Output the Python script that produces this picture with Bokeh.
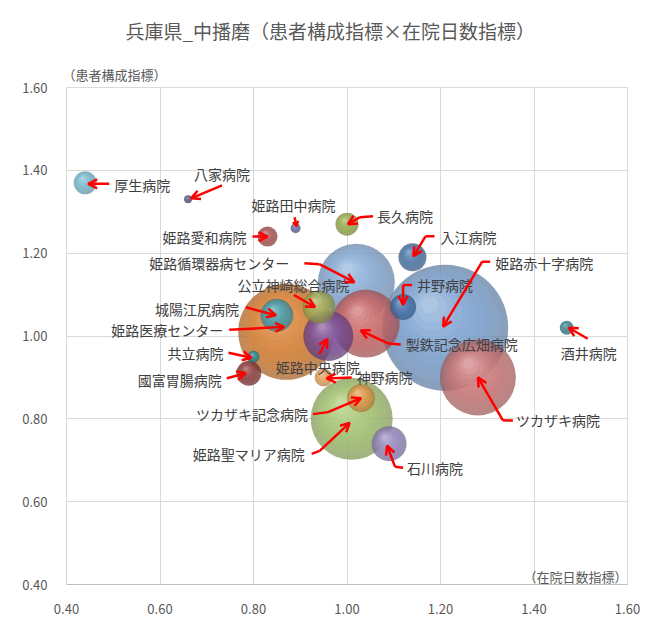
import math
from bokeh.plotting import figure
from bokeh.models import ColumnDataSource, FixedTicker, NumeralTickFormatter, Arrow, OpenHead, Label, Title
from bokeh.core.properties import value
from bokeh.embed import file_html
from bokeh.resources import INLINE

# ---------------- data ----------------
hospitals = ["厚生病院", "八家病院", "姫路田中病院", "姫路愛和病院", "長久病院", "入江病院",
             "姫路赤十字病院", "姫路循環器病センター", "井野病院", "酒井病院", "製鉄記念広畑病院",
             "公立神崎総合病院", "城陽江尻病院", "姫路医療センター", "姫路中央病院", "共立病院",
             "國富胃腸病院", "神野病院", "ツカザキ記念病院", "姫路聖マリア病院", "石川病院", "ツカザキ病院"]
stay_index = [0.44, 0.66, 0.89, 0.83, 1.00, 1.14, 1.21, 1.02, 1.12, 1.47, 1.04,
              0.94, 0.85, 0.87, 0.96, 0.80, 0.79, 0.95, 1.03, 1.01, 1.09, 1.28]
patient_index = [1.37, 1.33, 1.26, 1.24, 1.27, 1.19, 1.02, 1.13, 1.07, 1.02, 1.03,
                 1.07, 1.05, 1.01, 1.00, 0.95, 0.91, 0.90, 0.85, 0.80, 0.74, 0.90]
bubble_value = [264, 32, 50, 200, 264, 392, 7938, 2964, 338, 98, 2312,
                544, 544, 4608, 1250, 72, 312, 162, 392, 3362, 612, 2888]
x_ticks = [0.40, 0.60, 0.80, 1.00, 1.20, 1.40, 1.60]
y_ticks = [0.40, 0.60, 0.80, 1.00, 1.20, 1.40, 1.60]
title_text = "兵庫県_中播磨（患者構成指標×在院日数指標）"
x_title = "（在院日数指標）"
y_title = "（患者構成指標）"

# ---------------- styles / layout ----------------
colors = ["#7cc4d8", "#5b5e8c", "#6c6fa6", "#b35656", "#9fb24f", "#4a78ad",
          "#80a9dc", "#8cb2e0", "#4979b4", "#3b8c99", "#d46b6b",
          "#a9b45a", "#47a7b9", "#e3832f", "#7e4f9e", "#2a8f9f",
          "#8f3a3a", "#f1a55a", "#eba04d", "#aacd72", "#9b8cc6", "#d57a7a"]

# label offset (px, y down), alignment, arrow path offsets (px, y down; last point = head)
LAYOUT = {
    "厚生病院": (29, 2, "left", [(24, 1), (3, 1)]),
    "八家病院": (34, -25, "center", [(34, -14), (3, -1)]),
    "姫路田中病院": (-2, -23, "center", [(-1, -11), (1, -2)]),
    "姫路愛和病院": (-21, 0, "right", [(-15, 0), (0, 0)]),
    "長久病院": (30, -8, "left", [(26, -8), (13, -7), (1, 0)]),
    "入江病院": (28, -20, "left", [(22, -21), (13, -21), (1, -1)]),
    "姫路赤十字病院": (50, -65, "left", [(45, -66), (37, -66), (-2, -1)]),
    "姫路循環器病センター": (-67, -19, "right", [(-52, -19), (-37, -18), (-2, 0)]),
    "井野病院": (14, -22, "left", [(9, -22), (0, -22), (0, -2)]),
    "酒井病院": (22, 25, "center", [(21, 11), (2, 0)]),
    "製鉄記念広畑病院": (40, 20, "left", [(35, 21), (23, 20), (-5, 7)]),
    "公立神崎総合病院": (-25.5, -22, "center", [(-25, -12), (-4, 0)]),
    "城陽江尻病院": (-38, -6, "right", [(-31, -8), (-1, 0)]),
    "姫路医療センター": (-63, -2, "right", [(-57, -2), (-2, -5)]),
    "姫路中央病院": (-10.5, 31, "center", [(-9, 18), (-1, 3)]),
    "共立病院": (-30, -4, "right", [(-25, -4), (-2, 1)]),
    "國富胃腸病院": (-27, 7, "right", [(-22, 5), (-3, 0)]),
    "神野病院": (33, 0, "left", [(28, 0), (3, 1)]),
    "ツカザキ記念病院": (-53, 16, "right", [(-48, 16), (-33, 14), (0, 0)]),
    "姫路聖マリア病院": (-47, 35, "right", [(-40, 35), (-32, 32), (-2, 4)]),
    "石川病院": (18, 24, "left", [(14, 24), (6, 23), (-2, 2)]),
    "ツカザキ病院": (38, 43, "left", [(35, 43), (25, 43), (0, 0)]),
}

W, H = 650, 629
ML, MR, MT, MB = 66, 23, 87, 45
X0, X1, Y0, Y1 = 0.40, 1.60, 0.40, 1.60
FW, FH = W - ML - MR, H - MT - MB
sx, sy = FW / (X1 - X0), FH / (Y1 - Y0)
FONT = "Noto Sans CJK JP"

p = figure(width=W, height=H, x_range=(X0, X1), y_range=(Y0, Y1),
           output_backend="svg", toolbar_location=None,
           min_border_left=ML, min_border_right=MR, min_border_top=MT, min_border_bottom=MB)
p.background_fill_color = "white"
p.border_fill_color = "white"
p.outline_line_color = "#d9d9d9"

# titles (in the side panel above the frame)
p.add_layout(Title(text=y_title, align="left", offset=-4, standoff=8, vertical_align="bottom",
                   text_font=FONT, text_font_size="13px", text_font_style="normal",
                   text_color="#595959"), "above")
p.title.text = title_text
p.title.align = "left"
p.title.offset = 59
p.title.standoff = 26
p.title.vertical_align = "top"
p.title.text_font = FONT
p.title.text_font_size = "19px"
p.title.text_font_style = "normal"
p.title.text_color = "#595959"

for ax, ticks in ((p.xaxis, x_ticks), (p.yaxis, y_ticks)):
    ax.ticker = FixedTicker(ticks=ticks)
    ax.formatter = NumeralTickFormatter(format="0.00")
    ax.major_tick_line_color = None
    ax.minor_tick_line_color = None
    ax.major_label_text_font = FONT
    ax.major_label_text_font_size = "13px"
    ax.major_label_text_color = "#595959"
    ax.major_label_standoff = 13
p.yaxis.axis_line_color = None
p.xaxis.axis_line_color = "#bfbfbf"
p.xgrid.ticker = FixedTicker(ticks=x_ticks)
p.ygrid.ticker = FixedTicker(ticks=y_ticks)
p.grid.grid_line_color = "#d9d9d9"
p.grid.grid_line_width = 1


def rgb(h):
    return tuple(int(h[i:i + 2], 16) for i in (1, 3, 5))


def hexc(t):
    return "#%02x%02x%02x" % tuple(max(0, min(255, int(round(v)))) for v in t)


def mix(c, d, f):
    return tuple(a + (b - a) * f for a, b in zip(c, d))


# ---------------- bubbles (3D look) ----------------
DMAX = 126.0
vmax = max(bubble_value)
order = sorted(range(len(hospitals)), key=lambda i: -bubble_value[i])
for i in order:
    d = DMAX * math.sqrt(bubble_value[i] / vmax)
    r = d / 2
    base = rgb(colors[i])
    xs, ys, ss, cs, al = [], [], [], [], []
    xs.append(stay_index[i]); ys.append(patient_index[i]); ss.append(d)
    cs.append(hexc(mix(base, (0, 0, 0), 0.25))); al.append(0.74)
    N = 9
    for k in range(1, N + 1):
        t = k / N
        rr = r * (1 - 0.86 * t)
        ox, oy = -0.24 * r * t, -0.36 * r * t
        xs.append(stay_index[i] + ox / sx)
        ys.append(patient_index[i] - oy / sy)
        ss.append(2 * rr)
        cs.append(hexc(mix(base, (255, 255, 255), 0.02 + 0.62 * t ** 2)))
        al.append(0.22)
    src = ColumnDataSource(dict(x=xs, y=ys, s=ss, c=cs, a=al))
    p.scatter("x", "y", size="s", fill_color="c", fill_alpha="a", line_color=None, source=src)

# ---------------- labels ----------------
for align in ("left", "center", "right"):
    tx, ty, tt = [], [], []
    for i, name in enumerate(hospitals):
        dx, dy, al_, _ = LAYOUT[name]
        if al_ != align:
            continue
        tx.append(stay_index[i] + dx / sx)
        ty.append(patient_index[i] - dy / sy)
        tt.append(name)
    if tx:
        p.text(x=tx, y=ty, text=tt, text_font=value(FONT), text_font_size="14px",
               text_color="#404040", text_align=align, text_baseline="middle")

# ---------------- arrows ----------------
RED = "#ff0000"
for i, name in enumerate(hospitals):
    path = LAYOUT[name][3]
    pts = [(stay_index[i] + ox / sx, patient_index[i] - oy / sy) for ox, oy in path]
    if len(pts) > 2:
        p.line([q[0] for q in pts[:-1]], [q[1] for q in pts[:-1]], line_color=RED, line_width=2.5)
    hs = 5 if name == "姫路田中病院" else 9
    p.add_layout(Arrow(x_start=pts[-2][0], y_start=pts[-2][1], x_end=pts[-1][0], y_end=pts[-1][1],
                       line_color=RED, line_width=2.5,
                       end=OpenHead(size=hs, line_color=RED, line_width=2.5)))

# x-axis caption at the bottom right of the plot area
p.add_layout(Label(x=X1, y=Y0, x_offset=0, y_offset=8, text=x_title,
                   text_align="right", text_baseline="middle", text_font=FONT,
                   text_font_size="13px", text_color="#595959"))

open("out.html", "w").write(file_html(p, INLINE))
